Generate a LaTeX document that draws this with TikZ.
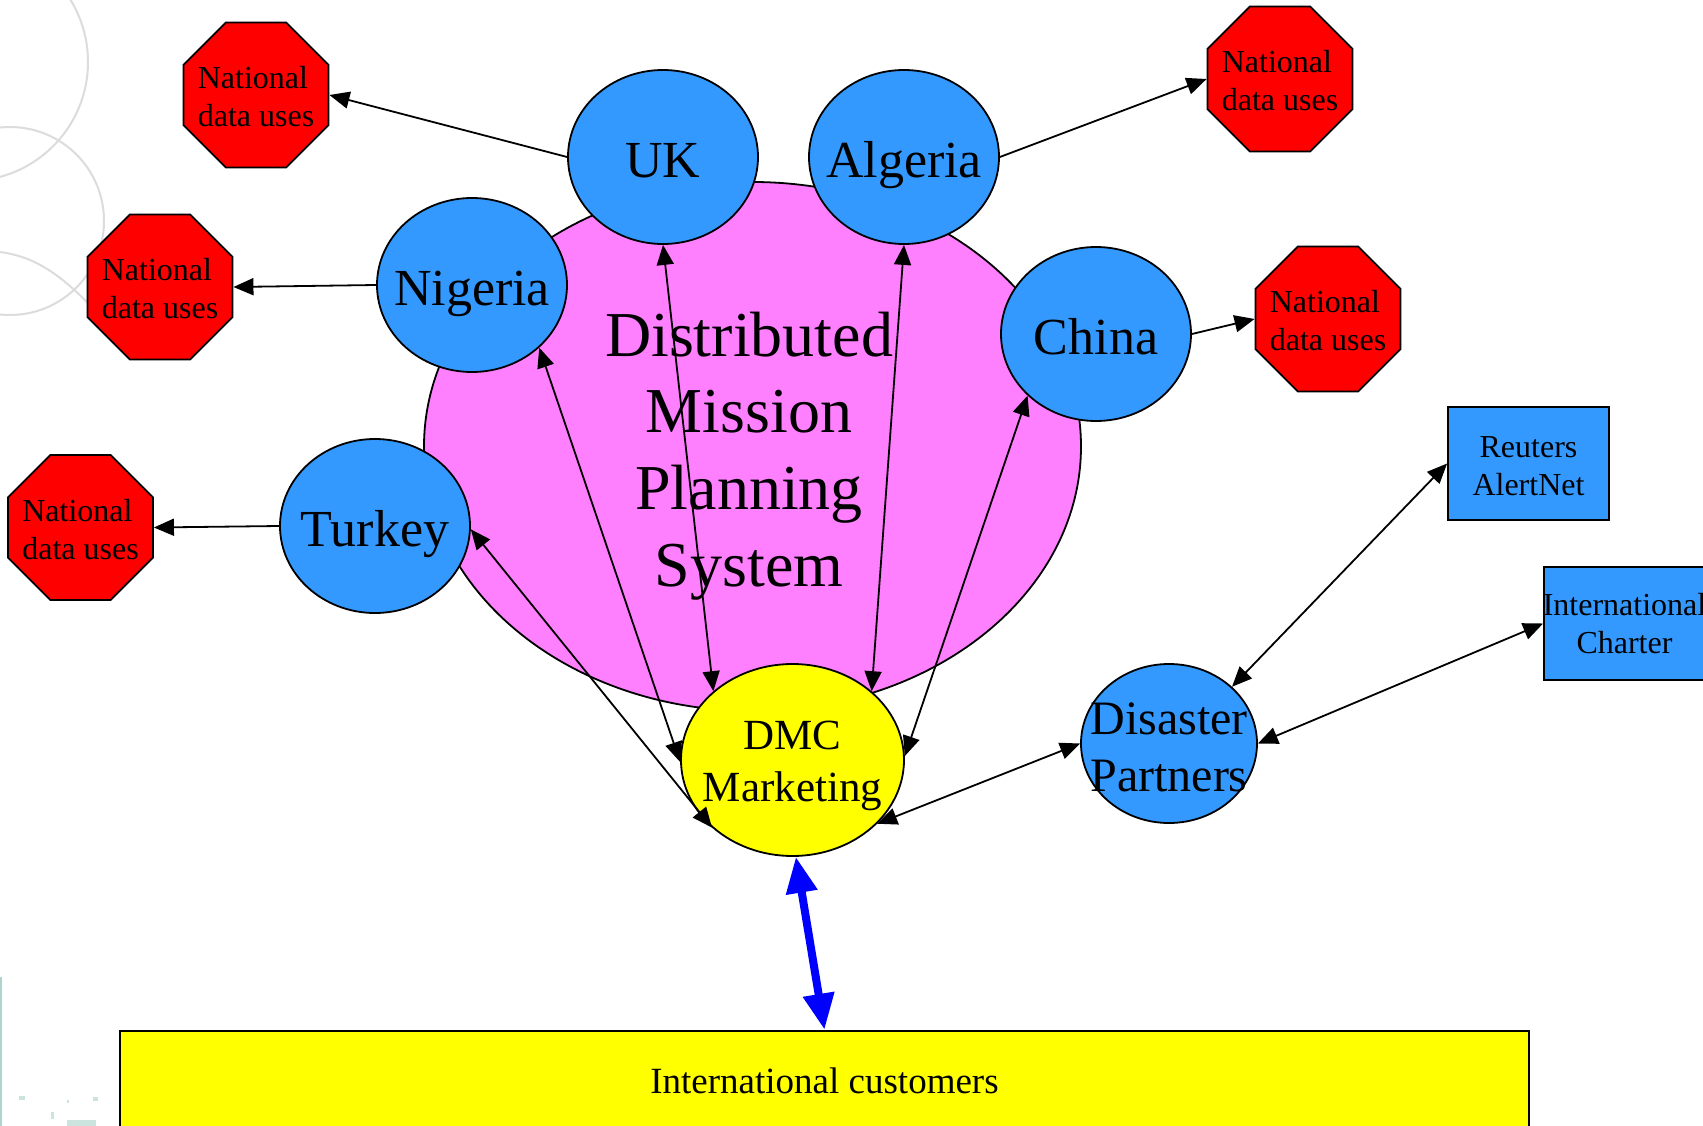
\documentclass[tikz,border=0pt]{standalone}
\usepackage{fontspec}
\setmainfont{Liberation Serif}
\usetikzlibrary{shapes.geometric,arrows.meta}

\definecolor{nodeblue}{RGB}{51,153,255}
\definecolor{planpink}{RGB}{255,128,255}
\definecolor{stopred}{RGB}{255,0,0}
\definecolor{markyellow}{RGB}{255,255,0}
\definecolor{decogray}{RGB}{220,220,220}
\definecolor{specteal}{RGB}{204,228,222}
\definecolor{stripteal}{RGB}{175,212,206}

% extra height on a first line, to sit multi-line labels a little lower
\newcommand{\lift}[1]{\rule{0pt}{#1}}

\begin{document}
\begin{tikzpicture}[x=1pt,y=-1pt,
  country/.style={ellipse, draw, line width=1.8pt, fill=nodeblue,
    minimum width=190pt, minimum height=174pt, inner sep=-40pt,
    text height=50pt, text depth=9pt,
    font=\fontsize{52}{60}\selectfont},
  usesbox/.style={regular polygon, regular polygon sides=8, draw, line width=1.8pt,
    fill=stopred, minimum size=157pt, inner sep=-40pt, align=left,
    font=\fontsize{32}{38}\selectfont},
  partnerbox/.style={rectangle, draw, line width=1.8pt, fill=nodeblue,
    minimum width=161pt, minimum height=113pt, inner sep=-20pt, align=center,
    font=\fontsize{32}{38}\selectfont},
  link/.style={line width=1.8pt, -{Triangle[length=20pt,width=17pt]}},
  twoway/.style={line width=1.8pt, {Triangle[length=20pt,width=17pt]}-{Triangle[length=20pt,width=17pt]}},
  deco/.style={draw=decogray, line width=2pt}
]
\useasboundingbox (0,0) rectangle (1703,1126);
\clip (0,0) rectangle (1703,1126);
\fill[white] (0,0) rectangle (1703,1126);

% faint background curves at the upper left
\draw[deco] (-31,62) circle[radius=119];
\draw[deco] (10,221) circle[radius=94];
\draw[deco] (0,252) .. controls (45,258) and (75,285) .. (130,350);

% specks and strip at the lower left
\fill[stripteal] (0,977) rectangle (2,1126);
\fill[specteal] (19,1096) rectangle (25,1100);
\fill[specteal] (67,1100) rectangle (69,1103);
\fill[specteal] (93,1097) rectangle (98,1101);
\fill[specteal] (51,1112) rectangle (54,1119);
\fill[specteal] (67,1120) rectangle (96,1126);

% planning system backdrop
\node[ellipse, draw, line width=1.8pt, fill=planpink, minimum width=657pt,
  minimum height=529pt, inner sep=-100pt] (dmps) at (752.5,446.5) {};
\node[align=center, inner sep=0pt, font=\fontsize{64}{76.7}\selectfont]
  (dmpslabel) at (749,456) {Distributed\\Mission\\Planning\\System};

% national data use octagons
\node[usesbox] (o1) at (256,95) {\lift{26pt}National\\data uses};
\node[usesbox] (o2) at (160,287) {\lift{26pt}National\\data uses};
\node[usesbox] (o3) at (80.5,527.5) {\lift{26pt}National\\data uses};
\node[usesbox] (o4) at (1280,79) {\lift{26pt}National\\data uses};
\node[usesbox] (o5) at (1328,319) {\lift{26pt}National\\data uses};

% member countries
\node[country] (uk) at (663,157) {UK};
\node[country] (algeria) at (904,157) {Algeria};
\node[country] (nigeria) at (472,285) {Nigeria};
\node[country] (china) at (1096,334) {China};
\node[country] (turkey) at (375,526) {Turkey};

% marketing hub and partners
\node[ellipse, draw, line width=1.8pt, fill=markyellow, minimum width=223pt,
  minimum height=192pt, inner sep=-40pt, align=center,
  font=\fontsize{43}{52}\selectfont] (dmc) at (792.5,760) {\lift{40pt}DMC\\Marketing};
\node[ellipse, draw, line width=1.8pt, fill=nodeblue, minimum width=176pt,
  minimum height=159pt, inner sep=-40pt, align=center,
  font=\fontsize{48}{57}\selectfont] (disaster) at (1169,743.5) {\lift{39pt}Disaster\\Partners};
\node[partnerbox] (reuters) at (1528.5,463.5) {\lift{26pt}Reuters\\AlertNet};
\node[partnerbox] (charter) at (1624.5,623.5) {International\\Charter};

% customers bar
\node[rectangle, draw, line width=2.6pt, fill=markyellow, minimum width=1409pt,
  minimum height=100pt, inner sep=0pt, font=\fontsize{37}{44}\selectfont]
  (customers) at (824.5,1081) {International customers};

% national data flows
\draw[link] (uk.west) -- (o1.east);
\draw[link] (nigeria.west) -- (o2.east);
\draw[link] (turkey.west) -- (o3.east);
\draw[link] (algeria.east) -- (o4.west);
\draw[link] (china.east) -- (o5.west);

% exchanges with the marketing hub
\draw[twoway] (uk.south) -- (dmc.139);
\draw[twoway] (algeria.south) -- (dmc.41);
\draw[twoway] (nigeria.-43) -- (dmc.181.5);
\draw[twoway] (china.222) -- (dmc.2.5);
\draw[twoway] (turkey.-2) -- (dmc.220);
\draw[twoway] (dmc.-37.5) -- (disaster.west);
\draw[twoway] (disaster.42) -- (reuters.west);
\draw[twoway] (disaster.east) -- (charter.west);

% main customer channel
\draw[draw=blue, line width=8pt,
  {Triangle[length=36pt,width=30pt]}-{Triangle[length=36pt,width=30pt]}]
  (dmc.272) -- (customers.north);
\end{tikzpicture}
\end{document}
